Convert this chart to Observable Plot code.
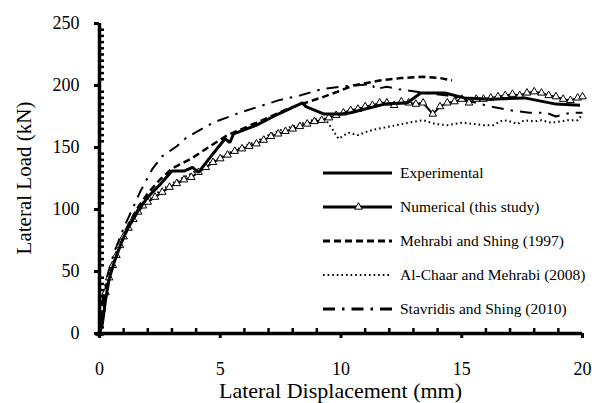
<!DOCTYPE html>
<html>
<head>
<meta charset="utf-8">
<script src="https://cdn.jsdelivr.net/npm/d3@7"></script>
<script src="https://cdn.jsdelivr.net/npm/@observablehq/plot@0.6"></script>
<style>
  body { margin: 0; background: #fff; }
</style>
</head>
<body>
<div id="chart"></div>
<script>
// Load–displacement curves: [displacement (mm), load (kN)]
const experimental = [
  [0,0],[0.12,8],[0.25,27],[0.4,44],[0.6,57],[0.9,73],[1.2,86],[1.6,99],[2.0,110],[2.5,120],
  [3.0,131],[3.5,131],[3.85,134],[4.1,130],[4.7,145],[5.2,157],[5.4,154],[5.55,161],[6.5,168],
  [7.4,177],[8.4,186],[8.55,183],[9.3,177],[10.0,177],[10.4,178],[11.0,181],[11.8,185],
  [12.75,186],[13.3,194],[14.3,194],[15.1,190],[16.2,189],[17.6,190],[18.9,185],[19.9,184]
];

const numerical = [
  [0,0],[0.1,20],[0.25,33],[0.4,45],[0.55,55],[0.7,63],[0.85,71],[1.0,78],[1.2,85],[1.4,92],
  [1.6,98],[1.8,103],[2.0,106],[2.3,110],[2.6,114],[2.9,118],[3.2,121],[3.5,124],[3.8,126],
  [4.1,130],[4.4,134],[4.7,138],[5.0,141],[5.3,144],[5.6,147],[5.9,149],[6.2,151],[6.5,153],
  [6.8,156],[7.1,159],[7.4,161],[7.7,163],[8.0,165],[8.3,167],[8.6,169],[8.9,171],[9.2,172],
  [9.5,174],[9.8,176],[10.1,178],[10.4,180],[10.7,181],[11.0,183],[11.3,184],[11.6,186],
  [11.9,186],[12.2,184],[12.5,187],[12.8,186],[13.1,185],[13.4,186],[13.8,177],[14.1,183],
  [14.4,186],[14.7,187],[15.0,189],[15.3,186],[15.6,189],[15.9,189],[16.2,190],[16.5,191],
  [16.8,192],[17.1,193],[17.4,192],[17.7,194],[18.0,195],[18.3,194],[18.6,192],[18.9,191],
  [19.2,189],[19.5,188],[19.8,190],[20.0,191]
];

const mehrabiShing1997 = [
  [0,0],[0.1,22],[0.3,40],[0.5,55],[0.8,70],[1.2,88],[1.6,102],[2.0,113],[2.5,124],[3.0,133],
  [3.8,141],[4.5,150],[5.3,160],[6.5,170],[7.9,182],[9.3,191],[10.0,196],[10.5,200],[11.6,204],
  [12.5,206],[13.4,207],[14.1,206],[14.6,204]
];

const alChaarMehrabi2008 = [
  [0,0],[0.1,22],[0.3,38],[0.6,58],[1.0,78],[1.5,96],[2.0,107],[2.5,115],[3.0,121],[3.5,126],
  [4.0,131],[4.5,137],[5.0,142],[5.5,147],[6.0,151],[6.5,155],[7.0,160],[7.5,164],[8.0,167],
  [8.5,170],[9.0,173],[9.3,174],[9.6,166],[9.9,157],[10.3,162],[10.7,160],[11.1,163],[11.5,165],
  [12.3,168],[12.8,170],[13.4,172],[13.9,169],[14.4,168],[15.0,170],[15.5,169],[15.9,168],
  [16.3,168],[16.7,172],[17.0,171],[17.3,169],[17.6,172],[18.0,171],[18.3,172],[18.7,170],
  [19.1,171],[19.4,172],[19.8,172],[20.0,177]
];

const stavridisShing2010 = [
  [0,0],[0.1,25],[0.3,45],[0.6,65],[1.0,85],[1.4,102],[1.7,115],[2.2,133],[2.6,143],[3.2,151],
  [3.6,158],[4.7,170],[5.8,178],[7.4,188],[8.3,192],[9.2,197],[10.0,199],[10.5,200],[11.3,201],
  [11.4,197],[11.9,199],[12.4,197],[13.5,194],[14.4,192],[15.2,188],[16.2,183],[17.0,180],
  [17.8,178],[18.5,178],[18.9,175],[19.5,178],[20.0,178]
];

// Legend entries and axis text
const seriesNames = [
  "Experimental",
  "Numerical (this study)",
  "Mehrabi and Shing (1997)",
  "Al-Chaar and Mehrabi (2008)",
  "Stavridis and Shing (2010)"
];
const xTicks = [0, 5, 10, 15, 20];
const yTicks = [0, 50, 100, 150, 200, 250];
const xTitle = "Lateral Displacement (mm)";
const yTitle = "Lateral Load (kN)";

const width = 592, height = 403;
const margin = {top: 23, right: 10, bottom: 70, left: 99};
const plotW = width - margin.left - margin.right;
const plotH = height - margin.top - margin.bottom;

const xMinor = d3.range(0, 21, 1).filter(d => !xTicks.includes(d));
const yMinor = d3.range(0, 251, 5).filter(d => !yTicks.includes(d));

const styles = [
  {data: experimental,       width: 3,   dash: null},
  {data: numerical,          width: 2,   dash: null},
  {data: mehrabiShing1997,   width: 2.5, dash: "7,4"},
  {data: alChaarMehrabi2008, width: 2,   dash: "1.6,3"},
  {data: stavridisShing2010, width: 2,   dash: "12,7,2.5,7"}
];

const lineMark = (s) => Plot.line(s.data, {
  x: d => d[0], y: d => d[1],
  stroke: "black", strokeWidth: s.width, strokeDasharray: s.dash,
  strokeLinejoin: "miter", strokeLinecap: "butt"
});

const font = "'Liberation Serif', 'Times New Roman', serif";

const plot = Plot.plot({
  width, height,
  marginTop: margin.top, marginRight: margin.right,
  marginBottom: margin.bottom, marginLeft: margin.left,
  x: {domain: [0, 20]},
  y: {domain: [0, 250]},
  style: {background: "white", color: "black", fontFamily: font},
  marks: [
    // minor ticks, drawn inward from the axes
    Plot.tickX(xMinor, {x: d => d, insetTop: plotH - 5, stroke: "black", strokeWidth: 2.5}),
    Plot.tickY(yMinor, {y: d => d, insetRight: plotW - 5, stroke: "black", strokeWidth: 2.5}),
    // curves
    lineMark(styles[4]),
    lineMark(styles[3]),
    lineMark(styles[2]),
    lineMark(styles[1]),
    Plot.dot(numerical, {
      x: d => d[0], y: d => d[1], symbol: "triangle", r: 2.8,
      fill: "white", stroke: "black", strokeWidth: 1
    }),
    lineMark(styles[0]),
    // axes
    Plot.axisX(xTicks, {tickSize: 5, tickPadding: 24, fontSize: 18, strokeWidth: 3, label: null}),
    Plot.axisY(yTicks, {tickSize: 5, tickPadding: 15, fontSize: 18, strokeWidth: 3, label: null}),
    Plot.ruleX([0], {stroke: "black", strokeWidth: 3.5}),
    Plot.ruleY([0], {stroke: "black", strokeWidth: 3.5})
  ]
});

document.getElementById("chart").appendChild(plot);

const svg = d3.select(plot);

// Axis titles
svg.append("text")
  .attr("x", margin.left + plotW / 2).attr("y", 398)
  .attr("text-anchor", "middle")
  .style("font-family", font).attr("font-size", 22).attr("fill", "black")
  .text(xTitle);

svg.append("text")
  .attr("transform", `translate(31,${margin.top + plotH / 2}) rotate(-90)`)
  .attr("text-anchor", "middle")
  .style("font-family", font).attr("font-size", 21).attr("fill", "black")
  .text(yTitle);

// Legend inside the plot area
const legend = svg.append("g");
const lx0 = 323, lx1 = 392, ly0 = 173, lstep = 34;
seriesNames.forEach((name, i) => {
  const y = ly0 + i * lstep;
  const s = styles[i];
  legend.append("line")
    .attr("x1", lx0).attr("x2", lx1).attr("y1", y).attr("y2", y)
    .attr("stroke", "black").attr("stroke-width", i === 3 ? 2 : 3)
    .attr("stroke-dasharray", s.dash);
  if (i === 1) {
    legend.append("path")
      .attr("d", d3.symbol(d3.symbolTriangle, 2.8 * 2.8 * Math.PI)())
      .attr("transform", `translate(${(lx0 + lx1) / 2 + 1},${y})`)
      .attr("fill", "white").attr("stroke", "black").attr("stroke-width", 1);
  }
  legend.append("text")
    .attr("x", 400).attr("y", y).attr("dy", "0.35em")
    .attr("text-anchor", "start")
    .style("font-family", font).attr("font-size", 15.5).attr("fill", "black")
    .text(name);
});
</script>
</body>
</html>
